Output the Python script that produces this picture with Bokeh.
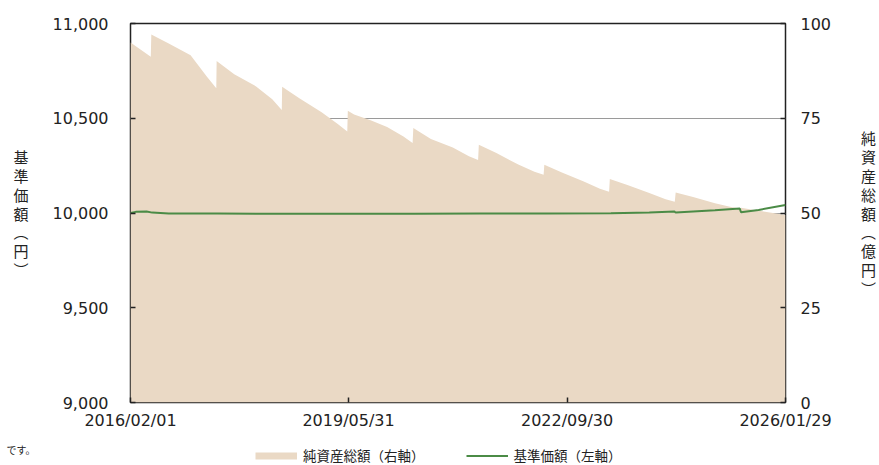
import pandas as pd
from bokeh.plotting import figure
from bokeh.layouts import column
from bokeh.models import (Range1d, LinearAxis, FixedTicker, NumeralTickFormatter,
                          DatetimeTickFormatter, Legend, LegendItem, ColumnDataSource)
from bokeh.embed import file_html
from bokeh.resources import INLINE

# ---------------- data ----------------
aum_dates = [
    "2016-02-01", "2016-05-24", "2016-05-27", "2016-09-01", "2017-01-01", "2017-04-01",
    "2017-05-24", "2017-05-26", "2017-09-01", "2018-01-01", "2018-04-01",
    "2018-05-24", "2018-05-26", "2018-09-01", "2019-01-01", "2019-04-01",
    "2019-05-24", "2019-05-27", "2019-07-01", "2019-10-01", "2020-01-01", "2020-04-01",
    "2020-05-22", "2020-05-26", "2020-09-01", "2021-01-01", "2021-04-01",
    "2021-05-22", "2021-05-26", "2021-09-01", "2022-01-01", "2022-04-01",
    "2022-05-22", "2022-05-26", "2022-09-01", "2023-01-01", "2023-04-01",
    "2023-05-22", "2023-05-26", "2023-09-01", "2024-01-01", "2024-04-01",
    "2024-05-22", "2024-05-27", "2024-09-01", "2025-01-01", "2025-04-01",
    "2025-05-20", "2025-05-26", "2025-09-01", "2026-01-29",
]
aum_values = [  # 純資産総額（億円）
    95.0, 91.2, 97.1, 94.7, 91.6, 86.0,
    82.9, 90.1, 86.6, 83.4, 80.0,
    77.2, 83.3, 80.2, 76.6, 73.5,
    71.5, 77.0, 76.0, 74.5, 72.7, 70.2,
    68.5, 72.4, 69.5, 67.3, 65.0,
    64.0, 68.0, 65.8, 62.8, 60.9,
    60.1, 62.7, 60.7, 58.3, 56.4,
    55.6, 59.0, 57.4, 55.3, 53.6,
    53.0, 55.4, 54.2, 52.6, 51.6,
    51.2, 51.4, 50.6, 49.5,
]

nav_dates = [
    "2016-02-01", "2016-03-01", "2016-05-01", "2016-06-01", "2016-09-01",
    "2017-06-01", "2018-06-01", "2019-06-01", "2020-06-01", "2021-06-01",
    "2022-06-01", "2023-06-01", "2024-01-01", "2024-05-20", "2024-05-27",
    "2024-09-01", "2025-01-01", "2025-05-19", "2025-05-26", "2025-09-01", "2026-01-29",
]
nav_values = [  # 基準価額（円）
    10000, 10006, 10008, 10002, 9998,
    9997, 9996, 9996, 9996, 9997,
    9997, 9999, 10003, 10008, 10002,
    10008, 10015, 10024, 10004, 10016, 10042,
]

x_tick_dates = ["2016-02-01", "2019-05-31", "2022-09-30", "2026-01-29"]
left_ticks = [9000, 9500, 10000, 10500, 11000]
right_ticks = [0, 25, 50, 75, 100]
series_names = ["純資産総額（右軸）", "基準価額（左軸）"]
left_title = "基準価額（円）"
right_title = "純資産総額（億円）"
footnote = "です。"

# ---------------- main figure ----------------
AREA = "#EAD9C5"
GREEN = "#4B8B46"
TXT = "#222222"
JP = "Noto Sans CJK JP"

src_aum = ColumnDataSource(dict(x=pd.to_datetime(aum_dates), y=aum_values))
src_nav = ColumnDataSource(dict(x=pd.to_datetime(nav_dates), y=nav_values))

p = figure(width=879, height=432, x_axis_type="datetime",
           output_backend="svg", toolbar_location=None,
           x_range=Range1d(pd.Timestamp(x_tick_dates[0]), pd.Timestamp(x_tick_dates[-1])),
           y_range=Range1d(left_ticks[0], left_ticks[-1]),
           min_border_left=130, min_border_right=91, min_border_top=23, min_border_bottom=28)
p.extra_y_ranges = {"right": Range1d(right_ticks[0], right_ticks[-1])}
p.background_fill_color = "white"
p.border_fill_color = "white"
p.outline_line_color = TXT
p.outline_line_width = 1.5
p.outline_line_alpha = 1

area_r = p.varea(x="x", y1=0, y2="y", source=src_aum, y_range_name="right",
                 fill_color=AREA, fill_alpha=1)
line_r = p.line(x="x", y="y", source=src_nav, line_color=GREEN, line_width=2)

p.xgrid.visible = False
p.ygrid.ticker = FixedTicker(ticks=left_ticks)
p.ygrid.grid_line_color = "#9A9A9A"
p.ygrid.grid_line_width = 1

right_axis = LinearAxis(y_range_name="right")
p.add_layout(right_axis, "right")

tick_ms = [pd.Timestamp(d).value / 1e6 for d in x_tick_dates]
p.xaxis[0].ticker = FixedTicker(ticks=tick_ms)
fmt = "%Y/%m/%d"
p.xaxis[0].formatter = DatetimeTickFormatter(
    microseconds=fmt, milliseconds=fmt, seconds=fmt, minsec=fmt, minutes=fmt,
    hourmin=fmt, hours=fmt, days=fmt, months=fmt, years=fmt)
p.yaxis[0].ticker = FixedTicker(ticks=left_ticks)
p.yaxis[0].formatter = NumeralTickFormatter(format="0,0")
right_axis.ticker = FixedTicker(ticks=right_ticks)

for ax in [p.xaxis[0], p.yaxis[0], right_axis]:
    ax.axis_line_color = None
    ax.major_tick_in = 5
    ax.major_tick_out = 0
    ax.minor_tick_in = 0
    ax.minor_tick_out = 0
    ax.major_tick_line_color = TXT
    ax.major_tick_line_width = 1.5
    ax.major_label_text_font = "DejaVu Sans"
    ax.major_label_text_font_size = "16px"
    ax.major_label_text_color = TXT
p.yaxis[0].major_label_standoff = 22
right_axis.major_label_standoff = 15
p.xaxis[0].major_label_standoff = 8


def stack(s):
    return "\n".join(s.replace("（", "︵").replace("）", "︶"))


for ax, title, standoff in [(p.yaxis[0], left_title, 21), (right_axis, right_title, 27)]:
    ax.axis_label = stack(title)
    ax.axis_label_orientation = "horizontal"
    ax.axis_label_standoff = standoff
    ax.axis_label_text_font = JP
    ax.axis_label_text_font_size = "15px"
    ax.axis_label_text_font_style = "normal"
    ax.axis_label_text_color = TXT
    ax.axis_label_text_line_height = 0.9

# ---------------- legend strip (second figure) ----------------
q = figure(width=879, height=33, output_backend="svg", toolbar_location=None,
           x_range=Range1d(0, 1), y_range=Range1d(0, 1), min_border=0,
           x_axis_location=None, y_axis_location=None)
q.outline_line_color = None
q.background_fill_color = "white"
q.border_fill_color = "white"
q.grid.visible = False
# legend proxies (kept outside the strip's visible range)
sw_area = q.line(x=[-2, -1], y=[-1, -1], line_color=AREA, line_width=7)
sw_line = q.line(x=[-2, -1], y=[-1, -1], line_color=GREEN, line_width=2)

legend = Legend(items=[LegendItem(label=series_names[0], renderers=[sw_area]),
                       LegendItem(label=series_names[1], renderers=[sw_line])],
                orientation="horizontal", location=(125, 0),
                glyph_width=42, glyph_height=17, label_standoff=6,
                label_height=16, spacing=41,
                padding=0, margin=0, border_line_color=None, background_fill_alpha=0,
                label_text_font=JP, label_text_font_size="13.5px",
                label_text_color=TXT)
q.add_layout(legend, "center")

# footnote fragment at the far left (carried by a bare axis label)
fn_axis = LinearAxis(ticker=FixedTicker(ticks=[]), axis_label=footnote,
                     axis_label_orientation="horizontal", axis_label_standoff=95,
                     axis_label_text_font=JP, axis_label_text_font_size="10px",
                     axis_label_text_font_style="normal", axis_label_text_color=TXT,
                     axis_line_color=None, major_tick_in=0, major_tick_out=0,
                     minor_tick_in=0, minor_tick_out=0, major_label_text_font_size="0px")
q.add_layout(fn_axis, "left")

open("out.html", "w").write(file_html(column(p, q, spacing=0), INLINE))
